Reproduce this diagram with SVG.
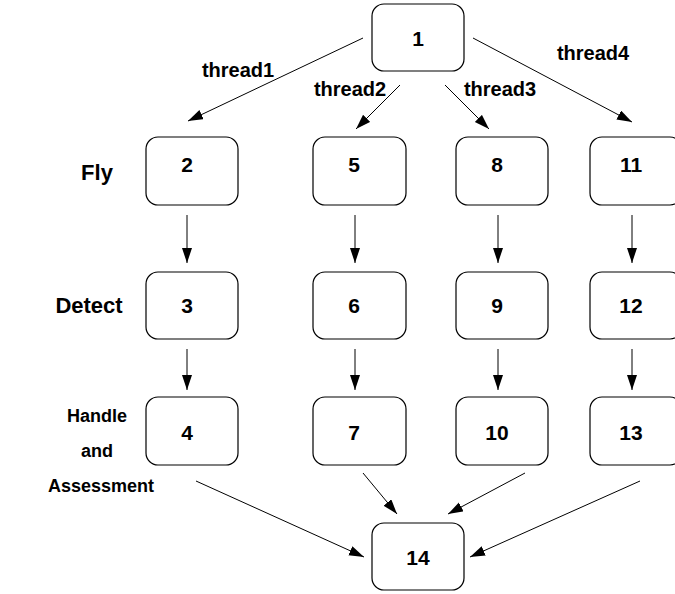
<svg xmlns="http://www.w3.org/2000/svg" width="675" height="594" viewBox="0 0 675 594">
  <style>
    .box { fill: #ffffff; stroke: #000000; stroke-width: 1.2; }
    .num { font-family: "Liberation Sans", Arial, sans-serif; font-weight: bold; font-size: 21px; text-anchor: middle; fill: #000000; }
    .lbl { font-family: "Liberation Sans", Arial, sans-serif; font-weight: bold; font-size: 18px; text-anchor: middle; fill: #000000; }
    .big { font-size: 22px; }
    .thr { font-size: 20px; }
    .edge { stroke: #000000; stroke-width: 1; fill: none; marker-end: url(#arrow); }
  </style>
  <defs>
    <marker id="arrow" markerUnits="userSpaceOnUse" markerWidth="16" markerHeight="11" refX="15" refY="5" orient="auto">
      <path d="M0,0 L15,5 L0,10 z" fill="#000000"/>
    </marker>
  </defs>
  <rect width="675" height="594" fill="#ffffff"/>

  <!-- row labels -->
  <g id="row-labels">
    <text class="lbl big" x="97" y="180">Fly</text>
    <text class="lbl big" x="89" y="313">Detect</text>
    <text class="lbl" x="97" y="422">Handle</text>
    <text class="lbl" x="97" y="457">and</text>
    <text class="lbl" x="101" y="492">Assessment</text>
  </g>

  <!-- thread labels -->
  <g id="thread-labels">
    <text class="lbl thr" x="238" y="77">thread1</text>
    <text class="lbl thr" x="350" y="96">thread2</text>
    <text class="lbl thr" x="500" y="96">thread3</text>
    <text class="lbl thr" x="593" y="60">thread4</text>
  </g>

  <g id="connectors">
    <line class="edge" x1="363" y1="38" x2="188" y2="121"/>
    <line class="edge" x1="400" y1="85" x2="356" y2="129"/>
    <line class="edge" x1="445" y1="85" x2="489" y2="129"/>
    <line class="edge" x1="473" y1="38" x2="632" y2="122"/>

    <line class="edge" x1="187" y1="215" x2="187" y2="263"/>
    <line class="edge" x1="355" y1="215" x2="355" y2="263"/>
    <line class="edge" x1="498" y1="215" x2="498" y2="263"/>
    <line class="edge" x1="632" y1="215" x2="632" y2="263"/>

    <line class="edge" x1="187" y1="349" x2="187" y2="390"/>
    <line class="edge" x1="355" y1="349" x2="355" y2="390"/>
    <line class="edge" x1="498" y1="349" x2="498" y2="390"/>
    <line class="edge" x1="632" y1="349" x2="632" y2="390"/>

    <line class="edge" x1="196" y1="481" x2="364" y2="557"/>
    <line class="edge" x1="363" y1="473" x2="397" y2="514"/>
    <line class="edge" x1="525" y1="473" x2="448" y2="514"/>
    <line class="edge" x1="640" y1="481" x2="470" y2="557"/>
  </g>

  <g id="node-1"><rect class="box" x="372" y="4" width="92" height="67" rx="12"/><text class="num" x="418" y="46">1</text></g>

  <g id="node-2"><rect class="box" x="146" y="137" width="92" height="68" rx="12"/><text class="num" x="187" y="172">2</text></g>
  <g id="node-5"><rect class="box" x="313" y="137" width="93" height="68" rx="12"/><text class="num" x="354" y="172">5</text></g>
  <g id="node-8"><rect class="box" x="456" y="137" width="92" height="68" rx="12"/><text class="num" x="497" y="172">8</text></g>
  <g id="node-11"><rect class="box" x="590" y="137" width="92" height="68" rx="12"/><text class="num" x="631" y="172">11</text></g>

  <g id="node-3"><rect class="box" x="146" y="272" width="92" height="67" rx="12"/><text class="num" x="187" y="313">3</text></g>
  <g id="node-6"><rect class="box" x="313" y="272" width="93" height="67" rx="12"/><text class="num" x="354" y="313">6</text></g>
  <g id="node-9"><rect class="box" x="456" y="272" width="92" height="67" rx="12"/><text class="num" x="497" y="313">9</text></g>
  <g id="node-12"><rect class="box" x="590" y="272" width="92" height="67" rx="12"/><text class="num" x="631" y="313">12</text></g>

  <g id="node-4"><rect class="box" x="146" y="397" width="92" height="68" rx="12"/><text class="num" x="187" y="440">4</text></g>
  <g id="node-7"><rect class="box" x="313" y="397" width="93" height="68" rx="12"/><text class="num" x="354" y="440">7</text></g>
  <g id="node-10"><rect class="box" x="456" y="397" width="92" height="68" rx="12"/><text class="num" x="497" y="440">10</text></g>
  <g id="node-13"><rect class="box" x="590" y="397" width="92" height="68" rx="12"/><text class="num" x="631" y="440">13</text></g>

  <g id="node-14"><rect class="box" x="372" y="523" width="92" height="67" rx="12"/><text class="num" x="418" y="565">14</text></g>
</svg>
